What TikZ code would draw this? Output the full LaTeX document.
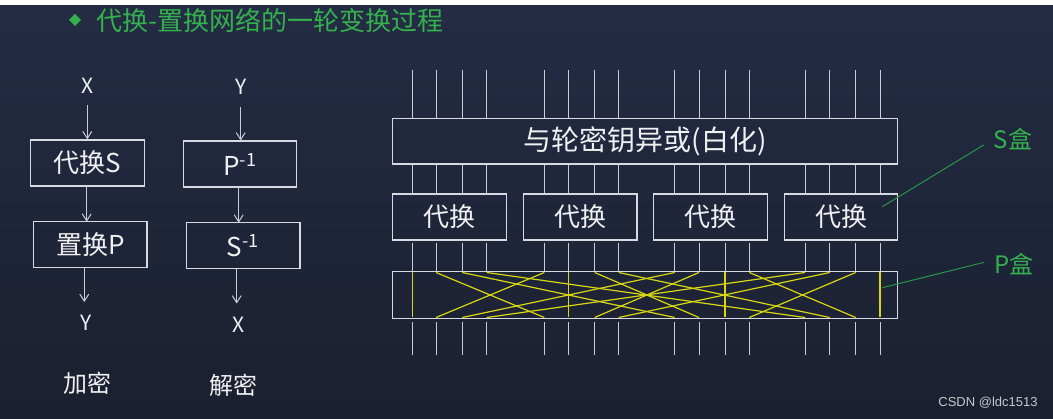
\documentclass[tikz,border=0pt]{standalone}
\usepackage{fontspec}
\setmainfont{Noto Sans CJK SC}
\newfontfamily\wmfont{Liberation Sans}
\usetikzlibrary{arrows.meta,calc}
\definecolor{bgtop}{RGB}{36,44,68}
\definecolor{bgbot}{RGB}{27,32,48}
\definecolor{ln}{RGB}{200,204,214}
\definecolor{bx}{RGB}{215,218,226}
\definecolor{txt}{RGB}{240,240,242}
\definecolor{grn}{RGB}{52,176,78}
\definecolor{gln}{RGB}{40,150,70}
\definecolor{yel}{RGB}{215,215,20}
\definecolor{wmc}{RGB}{200,200,204}
\begin{document}
\begin{tikzpicture}[x=1pt,y=-1pt,
  box/.style={draw=bx, line width=1.4pt, text=txt, inner sep=0pt, minimum height=46pt, font=\fontsize{26}{26}\selectfont},
  lbl/.style={text=txt, inner sep=0pt, font=\fontsize{21}{21}\selectfont},
  caplbl/.style={text=txt, inner sep=0pt, font=\fontsize{24}{24}\selectfont},
  arr/.style={draw=ln, line width=1pt, -{Straight Barb[length=7pt,width=9pt]}},
  wire/.style={draw=ln, line width=1pt},
  perm/.style={draw=yel, line width=1.2pt},
  glbl/.style={text=grn, inner sep=0pt, font=\fontsize{24}{24}\selectfont},
  gline/.style={draw=gln, line width=1pt}]
\useasboundingbox (0,0) rectangle (1053,419);
\shade[top color=bgtop, bottom color=bgbot] (0,5) rectangle (1053,419);
\fill[white] (0,0) rectangle (1053,5);

% title
\fill[grn] (75,14) -- (81,20) -- (75,26) -- (69,20) -- cycle;
\node[anchor=west, text=grn, inner sep=0pt, font=\fontsize{26}{26}\selectfont] (title) at (96,20) {代换-置换网络的一轮变换过程};

% left: encryption
\node[lbl] (X1) at (87.3,86) {X};
\node[box, minimum width=113.6pt] (S1) at (87.5,163) {代换S};
\node[box, minimum width=113.3pt] (P1) at (90.3,244.7) {置换P};
\node[lbl] (Y1) at (86,323) {Y};
\node[caplbl] (enc) at (87,383) {加密};
\coordinate (a1s) at (87.3,105);
\coordinate (a2s) at (86.7,186);
\coordinate (a2e) at (86.7,221.7);
\coordinate (a3s) at (84.3,267.7);
\coordinate (a3e) at (84.3,302);
\draw[arr] (a1s) -- (a1s |- S1.north);
\draw[arr] (a2s) -- (a2e);
\draw[arr] (a3s) -- (a3e);

% left: decryption
\node[lbl] (Y2) at (240.7,86.7) {Y};
\node[box, minimum width=113.4pt] (P2) at (240,164.2) {P\textsuperscript{-1}};
\node[box, minimum width=113.7pt] (S2) at (243.2,245.8) {S\textsuperscript{-1}};
\node[lbl] (X2) at (238.3,325) {X};
\node[caplbl] (dec) at (233,385) {解密};
\coordinate (b1s) at (240.7,106.7);
\coordinate (b2s) at (238.7,187.3);
\coordinate (b2e) at (238.7,222.7);
\coordinate (b3s) at (236.7,269);
\coordinate (b3e) at (236.7,303.5);
\draw[arr] (b1s) -- (b1s |- P2.north);
\draw[arr] (b2s) -- (b2e);
\draw[arr] (b3s) -- (b3e);

% right: SPN round
\node[box, minimum width=505pt, minimum height=45.7pt, font=\fontsize{28}{28}\selectfont] (xor) at (645.2,141.2) {与轮密钥异或(白化)};
\node[box, minimum width=114pt] (sb1) at (449.7,217) {代换};
\node[box, minimum width=113.7pt] (sb2) at (580.2,217) {代换};
\node[box, minimum width=113.6pt] (sb3) at (710.5,217) {代换};
\node[box, minimum width=113.4pt] (sb4) at (841,217) {代换};
\node[draw=bx, line width=1.4pt, inner sep=0pt, minimum width=505pt, minimum height=46.6pt] (pb) at (645.2,295) {};

\def\wx{{412.3,436,462.3,486.7,544.3,568.7,594.7,618.7,674.7,699,725,749.3,805,829.7,855.7,880}}
\foreach \i in {0,...,15}{
  \pgfmathsetmacro{\x}{\wx[\i]}
  \coordinate (wt\i) at (\x,70);
  \coordinate (wb\i) at (\x,355);
  \draw[wire] (wt\i) -- (wt\i |- xor.north);
  \draw[wire] (wt\i |- xor.south) -- (wt\i |- sb1.north);
  \draw[wire] ($(wt\i |- sb1.south)+(0,2)$) -- (wt\i |- pb.north);
  \draw[wire] ($(wt\i |- pb.south)+(0,3)$) -- (wb\i);
}
\foreach \i in {0,...,15}{
  \pgfmathtruncatemacro{\j}{4*mod(\i,4)+int(\i/4)}
  \pgfmathsetmacro{\xa}{\wx[\i]}
  \pgfmathsetmacro{\xb}{\wx[\j]}
  \draw[perm] (\xa,272.5) -- (\xb,317.5);
}

% labels S box / P box
\node[glbl] (slbl) at (1013,139) {S盒};
\node[glbl] (plbl) at (1014,264) {P盒};
\coordinate (sp) at (882.3,206.7);
\coordinate (pp) at (882.3,287.7);
\draw[gline] ($(slbl.west)+(-10,6)$) -- (sp);
\draw[gline] ($(plbl.west)+(-10,-1.7)$) -- (pp);

% watermark
\node[text=wmc, inner sep=0pt, font=\wmfont\fontsize{13}{13}\selectfont] (wm) at (988,403) {CSDN @ldc1513};
\end{tikzpicture}
\end{document}
